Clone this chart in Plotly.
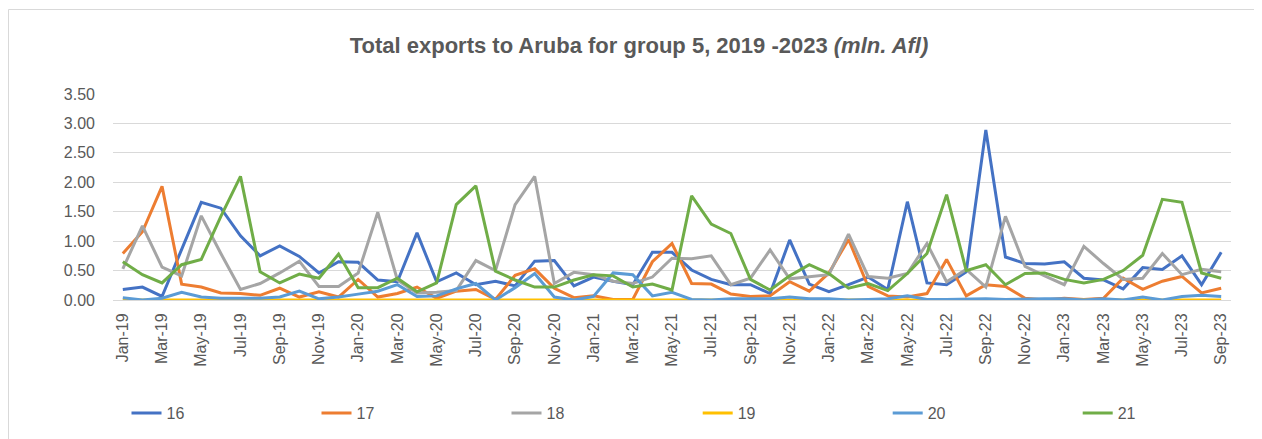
import plotly.graph_objects as go

months = []
for y in range(19, 24):
    for m in ["Jan", "Feb", "Mar", "Apr", "May", "Jun", "Jul", "Aug", "Sep", "Oct", "Nov", "Dec"]:
        months.append(f"{m}-{y}")
months = months[:57]  # Jan-19 .. Sep-23

s16 = [0.18, 0.22, 0.06, 0.85, 1.66, 1.56, 1.09, 0.75, 0.92, 0.74, 0.46, 0.65,
       0.64, 0.34, 0.31, 1.14, 0.31, 0.46, 0.26, 0.32, 0.24, 0.66, 0.67, 0.24,
       0.39, 0.32, 0.26, 0.81, 0.81, 0.51, 0.35, 0.26, 0.26, 0.11, 1.02, 0.27,
       0.14, 0.26, 0.39, 0.18, 1.67, 0.29, 0.26, 0.48, 2.89, 0.73, 0.62, 0.61,
       0.65, 0.37, 0.34, 0.19, 0.55, 0.52, 0.75, 0.26, 0.81]
s17 = [0.79, 1.16, 1.93, 0.27, 0.22, 0.12, 0.11, 0.08, 0.20, 0.05, 0.14, 0.05,
       0.35, 0.05, 0.11, 0.22, 0.03, 0.15, 0.18, 0.01, 0.42, 0.53, 0.20, 0.04,
       0.07, 0.01, 0.01, 0.65, 0.96, 0.28, 0.27, 0.10, 0.06, 0.07, 0.31, 0.15,
       0.46, 1.03, 0.23, 0.07, 0.05, 0.11, 0.69, 0.07, 0.26, 0.23, 0.03, 0.00,
       0.03, 0.01, 0.03, 0.37, 0.18, 0.32, 0.40, 0.12, 0.20]
s18 = [0.53, 1.26, 0.56, 0.41, 1.43, 0.79, 0.18, 0.28, 0.46, 0.66, 0.23, 0.23,
       0.46, 1.49, 0.34, 0.12, 0.13, 0.16, 0.67, 0.50, 1.62, 2.10, 0.28, 0.47,
       0.43, 0.32, 0.28, 0.39, 0.71, 0.70, 0.75, 0.26, 0.37, 0.85, 0.36, 0.40,
       0.43, 1.12, 0.40, 0.37, 0.45, 0.96, 0.31, 0.52, 0.22, 1.42, 0.57, 0.41,
       0.26, 0.91, 0.62, 0.35, 0.37, 0.79, 0.43, 0.52, 0.48]
s19 = [0.0] * 57
s20 = [0.04, 0.00, 0.03, 0.13, 0.05, 0.03, 0.03, 0.03, 0.05, 0.15, 0.02, 0.05,
       0.10, 0.15, 0.26, 0.06, 0.07, 0.19, 0.28, 0.00, 0.21, 0.45, 0.05, 0.00,
       0.06, 0.46, 0.43, 0.07, 0.13, 0.01, 0.00, 0.02, 0.02, 0.02, 0.05, 0.02,
       0.02, 0.00, 0.01, 0.02, 0.07, 0.01, 0.01, 0.02, 0.02, 0.01, 0.02, 0.02,
       0.02, 0.00, 0.02, 0.00, 0.05, 0.00, 0.06, 0.08, 0.06]
s21 = [0.65, 0.43, 0.29, 0.60, 0.69, 1.42, 2.10, 0.48, 0.29, 0.44, 0.37, 0.78,
       0.21, 0.21, 0.37, 0.14, 0.29, 1.62, 1.94, 0.49, 0.34, 0.22, 0.22, 0.34,
       0.43, 0.41, 0.22, 0.27, 0.17, 1.77, 1.29, 1.13, 0.35, 0.17, 0.41, 0.60,
       0.45, 0.20, 0.28, 0.16, 0.45, 0.79, 1.79, 0.50, 0.60, 0.26, 0.45, 0.46,
       0.35, 0.29, 0.35, 0.50, 0.76, 1.71, 1.66, 0.46, 0.37]

series_names = ["16", "17", "18", "19", "20", "21"]
series_values = [s16, s17, s18, s19, s20, s21]
colors = ["#4472C4", "#ED7D31", "#A5A5A5", "#FFC000", "#5B9BD5", "#70AD47"]
legend_ids = ["legend", "legend", "legend", "legend2", "legend2", "legend2"]

y_ticks = [0, 0.5, 1.0, 1.5, 2.0, 2.5, 3.0, 3.5]

fig = go.Figure()
for name, vals, col, lg in zip(series_names, series_values, colors, legend_ids):
    fig.add_trace(go.Scatter(x=months, y=vals, mode="lines", name=name,
                             line=dict(color=col, width=3), legend=lg))

FONT = "Liberation Sans, Arial, sans-serif"
# The page body has an 8px default margin; figure is sized to end at the window edge.
OFF = 8
SW, SH = 1262, 439            # screenshot size
W, H = SW - OFF, SH - OFF     # figure size
# plot area in screenshot pixels
PL, PR, PT, PB = 113, 1231, 94, 300
L, R, T, B = PL - OFF, SW - PR, PT - OFF, SH - PB
pw, ph = W - L - R, H - T - B

def sx_paper(sx):
    return (sx - PL) / pw

def sy_paper(sy):
    return (PB - sy) / ph

def sx_cont(sx):
    return (sx - OFF) / W

def sy_cont(sy):
    return 1 - (sy - OFF) / H

legend_common = dict(
    orientation="h", xref="container", yref="container",
    xanchor="left", y=sy_cont(413), yanchor="middle",
    entrywidth=145, entrywidthmode="pixels",
    font=dict(size=16, color="#595959"), bgcolor="rgba(0,0,0,0)",
)

fig.update_layout(
    width=W, height=H,
    margin=dict(l=L, r=R, t=T, b=B, autoexpand=False),
    paper_bgcolor="white", plot_bgcolor="white",
    font=dict(family=FONT, color="#595959", size=16),
    title=dict(
        text="<b>Total exports to Aruba for group 5, 2019 -2023 <i>(mln. Afl)</i></b>",
        x=sx_cont(639), xanchor="center", xref="container",
        y=sy_cont(45), yanchor="middle", yref="container",
        font=dict(size=22, color="#595959", family=FONT),
    ),
    xaxis=dict(
        type="category", range=[-0.5, 56.5], automargin=False,
        tickmode="array", tickvals=months[::2], ticktext=months[::2],
        tickangle=-90, showgrid=False, zeroline=False,
        showline=True, linecolor="#D9D9D9", linewidth=1,
        ticks="", ticklabelstandoff=6, tickfont=dict(size=16, color="#595959"),
    ),
    yaxis=dict(
        range=[0, 3.5], tickvals=y_ticks, tickformat=".2f", automargin=False,
        showgrid=True, gridcolor="#D9D9D9", gridwidth=1,
        zeroline=False, showline=False, ticks="", ticklabelstandoff=17,
        tickfont=dict(size=16, color="#595959"),
    ),
    legend=dict(legend_common, x=sx_cont(126.5)),
    legend2=dict(legend_common, x=sx_cont(126.5 + 3 * 190.4)),
    showlegend=True,
)

fig.add_shape(type="rect", xref="paper", yref="paper",
              x0=sx_paper(8.5), x1=sx_paper(1275),
              y0=sy_paper(460), y1=sy_paper(9.5),
              line=dict(color="#D9D9D9", width=1), fillcolor="rgba(0,0,0,0)",
              layer="below")

fig.write_html("out.html")
